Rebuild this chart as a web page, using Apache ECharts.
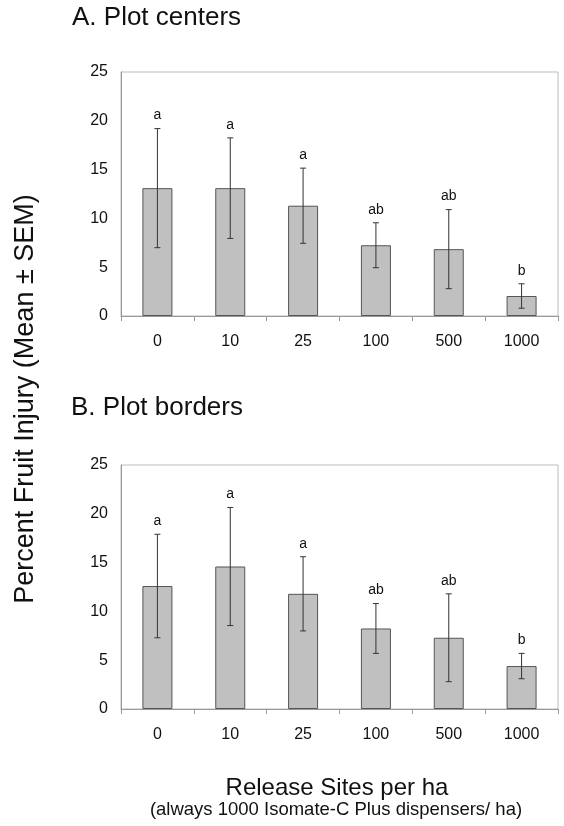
<!DOCTYPE html>
<html>
<head>
<meta charset="utf-8">
<script src="https://cdn.jsdelivr.net/npm/echarts@6/dist/echarts.min.js"></script>
<style>html,body{margin:0;padding:0;background:#fff}#c{width:564px;height:826px}</style>
</head>
<body>
<div id="c"></div>
<script>
var categories = ['0', '10', '25', '100', '500', '1000'];
var centersMean = [13.1, 13.1, 11.3, 7.25, 6.85, 2.05];
var centersSEM = [6.1, 5.15, 3.85, 2.3, 4.05, 1.25];
var centersLetters = ['a', 'a', 'a', 'ab', 'ab', 'b'];
var bordersMean = [12.6, 14.6, 11.8, 8.25, 7.3, 4.4];
var bordersSEM = [5.3, 6.05, 3.8, 2.55, 4.5, 1.3];
var bordersLetters = ['a', 'a', 'a', 'ab', 'ab', 'b'];
var yTicks = {min: 0, max: 25, interval: 5};

var FONT = '"Liberation Sans", Arial, Helvetica, sans-serif';
var chart = echarts.init(document.getElementById('c'), null, {renderer: 'canvas'});

function errData(mean, sem, letters) {
  return mean.map(function (m, i) { return [i, m - sem[i], m + sem[i], letters[i]]; });
}

function errRender(params, api) {
  var x = api.value(0);
  var lo = api.coord([x, api.value(1)]);
  var hi = api.coord([x, api.value(2)]);
  var cap = 3;
  var st = {stroke: '#333', lineWidth: 1};
  return {
    type: 'group',
    children: [
      {type: 'line', shape: {x1: hi[0], y1: hi[1], x2: lo[0], y2: lo[1]}, style: st},
      {type: 'line', shape: {x1: hi[0] - cap, y1: hi[1], x2: hi[0] + cap, y2: hi[1]}, style: st},
      {type: 'line', shape: {x1: lo[0] - cap, y1: lo[1], x2: lo[0] + cap, y2: lo[1]}, style: st},
      {type: 'text', style: {text: api.value(3), x: hi[0], y: hi[1] - 13, align: 'center', verticalAlign: 'middle',
        font: '14px ' + FONT, fill: '#111'}}
    ]
  };
}

function xAxis(idx) {
  return {
    type: 'category', gridIndex: idx, data: categories,
    axisLine: {lineStyle: {color: '#999', width: 1}},
    axisTick: {show: true, length: 5, lineStyle: {color: '#999'}},
    axisLabel: {fontSize: 16, color: '#111', fontFamily: FONT, margin: 18}
  };
}
function yAxis(idx) {
  return {
    type: 'value', gridIndex: idx, min: yTicks.min, max: yTicks.max, interval: yTicks.interval,
    axisLine: {show: true, lineStyle: {color: '#999', width: 1}},
    axisTick: {show: false},
    splitLine: {show: false},
    axisLabel: {fontSize: 16, color: '#111', fontFamily: FONT, margin: 13}
  };
}
var barStyle = {color: '#c0c0c0', borderColor: '#555', borderWidth: 1};

chart.setOption({
  animation: false,
  backgroundColor: '#fff',
  grid: [
    {left: 121, right: 6, top: 72, height: 244, show: true, borderColor: '#bbb', borderWidth: 1, backgroundColor: 'transparent'},
    {left: 121, right: 6, top: 465, height: 244, show: true, borderColor: '#bbb', borderWidth: 1, backgroundColor: 'transparent'}
  ],
  xAxis: [xAxis(0), xAxis(1)],
  yAxis: [yAxis(0), yAxis(1)],
  series: [
    {type: 'bar', xAxisIndex: 0, yAxisIndex: 0, data: centersMean, barWidth: 30, itemStyle: barStyle},
    {type: 'custom', xAxisIndex: 0, yAxisIndex: 0, data: errData(centersMean, centersSEM, centersLetters), renderItem: errRender, z: 5},
    {type: 'bar', xAxisIndex: 1, yAxisIndex: 1, data: bordersMean, barWidth: 30, itemStyle: barStyle},
    {type: 'custom', xAxisIndex: 1, yAxisIndex: 1, data: errData(bordersMean, bordersSEM, bordersLetters), renderItem: errRender, z: 5}
  ],
  graphic: [
    {type: 'text', x: 72, y: 18, style: {text: 'A. Plot centers', font: '26px ' + FONT, fill: '#111', verticalAlign: 'middle'}},
    {type: 'text', x: 71, y: 408, style: {text: 'B. Plot borders', font: '26px ' + FONT, fill: '#111', verticalAlign: 'middle'}},
    {type: 'text', x: 26, y: 399, rotation: Math.PI / 2,
      style: {text: 'Percent Fruit Injury (Mean ± SEM)', font: '27px ' + FONT, fill: '#111', align: 'center', verticalAlign: 'middle'}},
    {type: 'text', x: 337, y: 788, style: {text: 'Release Sites per ha', font: '24px ' + FONT, fill: '#111', align: 'center', verticalAlign: 'middle'}},
    {type: 'text', x: 336, y: 810, style: {text: '(always 1000 Isomate-C Plus dispensers/ ha)', font: '18.5px ' + FONT, fill: '#111', align: 'center', verticalAlign: 'middle'}}
  ]
});
</script>
</body>
</html>
